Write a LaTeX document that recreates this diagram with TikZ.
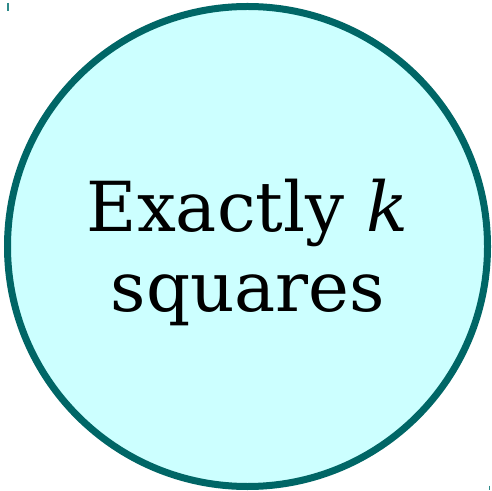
\documentclass[tikz,border=0pt]{standalone}
\usepackage{fontspec}
\setmainfont{DejaVu Serif}
\definecolor{ringcol}{HTML}{006666}
\definecolor{fillcol}{HTML}{CCFFFF}
\definecolor{tickcol}{HTML}{2E8A8A}
\tikzset{
  ring/.style={circle, draw=ringcol, fill=fillcol, line width=7pt, minimum size=480pt, inner sep=0pt},
  label/.style={font=\fontsize{69}{80}\selectfont, inner sep=0pt, anchor=base},
  tick/.style={draw=tickcol, line width=1.3pt}
}
\begin{document}
\begin{tikzpicture}[x=1pt,y=1pt]
\useasboundingbox (0,0) rectangle (492,490);
\node[ring] (c) at (247.5,243.5) {};
\node[label] (l1) at (247.5,258) {Exactly \textit{k}};
\node[label] (l2) at (248,178) {squares};
\coordinate (t1a) at (8,487);
\coordinate (t1b) at (8,479);
\coordinate (t2a) at (489.5,4.5);
\coordinate (t2b) at (489.5,0);
\draw[tick] (t1a) -- (t1b);
\draw[tick] (t2a) -- (t2b);
\end{tikzpicture}
\end{document}
